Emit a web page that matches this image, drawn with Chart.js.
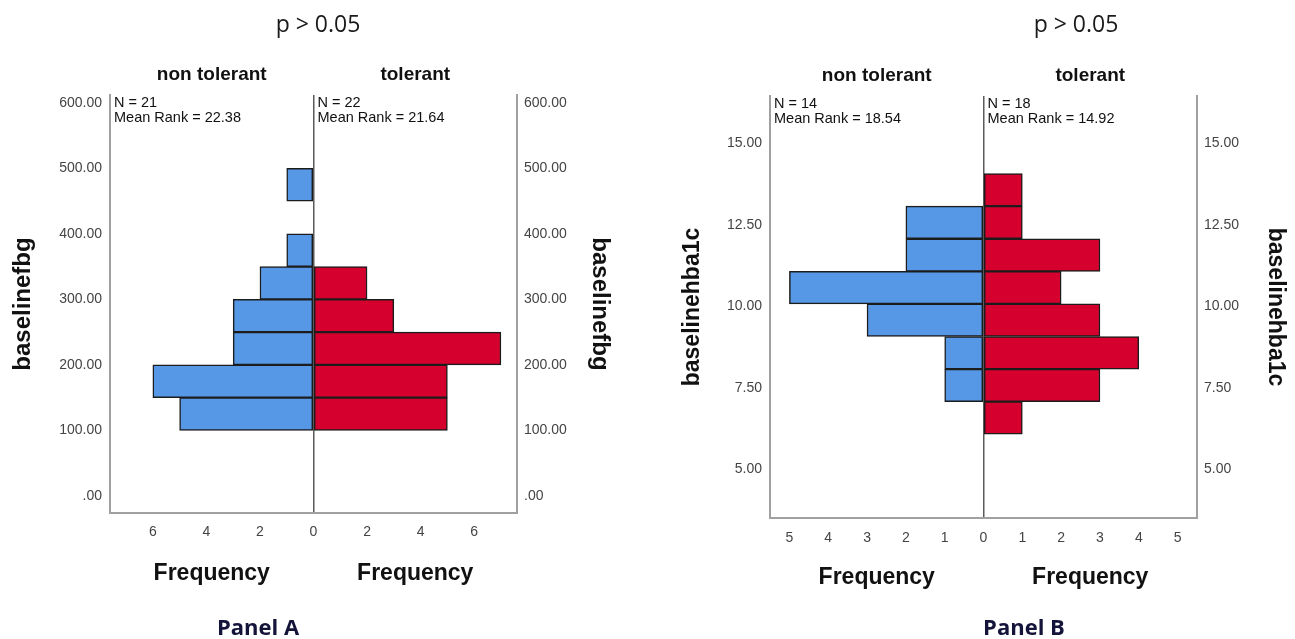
<!DOCTYPE html>
<html>
<head>
<meta charset="utf-8">
<script src="https://cdn.jsdelivr.net/npm/chart.js@4.4.1/dist/chart.umd.min.js"></script>
<style>
  html, body { margin: 0; padding: 0; background: #fff; }
  body { width: 1295px; height: 639px; position: relative; overflow: hidden; }
  .panel { position: absolute; top: 0; height: 639px; }
  #wrapA { left: 0; width: 650px; }
  #wrapB { left: 650px; width: 645px; }
</style>
</head>
<body>
<div class="panel" id="wrapA"><canvas id="chartA"></canvas></div>
<div class="panel" id="wrapB"><canvas id="chartB"></canvas></div>
<script>
// Panel A - baselinefbg, bins of 50 (lower edges)
const binStartsA = [100, 150, 200, 250, 300, 350, 400, 450];
const binWidthA = 50;
const nonTolerantA = [5, 6, 3, 3, 2, 1, 0, 1];
const tolerantA = [5, 5, 7, 3, 2, 0, 0, 0];
const yTicksA = [0, 100, 200, 300, 400, 500, 600];
const xTicksA = [-6, -4, -2, 0, 2, 4, 6];
const statsA = { left: ['N = 21', 'Mean Rank = 22.38'], right: ['N = 22', 'Mean Rank = 21.64'] };

// Panel B - baselinehba1c, bins of 1 (lower edges)
const binStartsB = [6.07, 7.07, 8.07, 9.07, 10.07, 11.07, 12.07, 13.07];
const binWidthB = 1;
const nonTolerantB = [0, 1, 1, 3, 5, 2, 2, 0];
const tolerantB = [1, 3, 4, 3, 2, 3, 1, 1];
const yTicksB = [5, 7.5, 10, 12.5, 15];
const xTicksB = [-5, -4, -3, -2, -1, 0, 1, 2, 3, 4, 5];
const statsB = { left: ['N = 14', 'Mean Rank = 18.54'], right: ['N = 18', 'Mean Rank = 14.92'] };

const BLUE = '#5698e6';
const RED = '#d6002f';
const EDGE = '#1c1c1c';

const toBars = (starts, width, counts, sign) =>
  starts.map((s, i) => ({ y: s + width / 2, x: sign * counts[i] }))
        .filter(p => p.x !== 0);

const fmtY = v => v === 0 ? '.00' : v.toFixed(2);

// draws the extra texts (p value, group names, N / mean rank, Frequency, panel name)
const panelText = {
  id: 'panelText',
  afterDraw(chart, args, o) {
    const { ctx, chartArea: a, scales: { x } } = chart;
    const zero = x.getPixelForValue(0);
    const lMid = (a.left + zero) / 2;
    const rMid = (zero + a.right) / 2;
    ctx.save();
    ctx.textAlign = 'center';
    ctx.textBaseline = 'middle';

    ctx.fillStyle = '#1a1a1a';
    ctx.font = '23px "Open Sans", "Liberation Sans", sans-serif';
    ctx.fillText('p > 0.05', o.pX, 25);

    ctx.fillStyle = '#111';
    ctx.font = 'bold 19px "Liberation Sans Narrow", "Liberation Sans", Arial, sans-serif';
    ctx.fillText('non tolerant', lMid, a.top - 20);
    ctx.fillText('tolerant', rMid, a.top - 20);

    ctx.textAlign = 'left';
    ctx.font = '14.5px "Liberation Sans Narrow", "Liberation Sans", Arial, sans-serif';
    o.stats.left.forEach((t, i) => ctx.fillText(t, a.left + 4, a.top + o.statsTop + i * 15));
    o.stats.right.forEach((t, i) => ctx.fillText(t, zero + 4, a.top + o.statsTop + i * 15));

    ctx.textAlign = 'center';
    ctx.font = 'bold 23px "Liberation Sans", Arial, sans-serif';
    ctx.fillText('Frequency', lMid, o.freqY);
    ctx.fillText('Frequency', rMid, o.freqY);

    ctx.fillStyle = '#14143a';
    ctx.font = 'bold 22px "Open Sans", "Noto Sans", sans-serif';
    ctx.fillText(o.panelName, o.panelX, 629);
    ctx.restore();
  }
};

function makePanel(id, cfg) {
  const tickFont = { family: '"Liberation Sans", Arial, sans-serif', size: 14 };
  const titleFont = { family: '"Liberation Sans", Arial, sans-serif', size: cfg.titleSize, weight: 'bold' };
  return new Chart(document.getElementById(id), {
    type: 'bar',
    data: {
      datasets: [
        {
          label: 'non tolerant',
          data: toBars(cfg.bins, cfg.binWidth, cfg.left, -1),
          backgroundColor: BLUE, borderColor: EDGE, borderWidth: 1.5, borderSkipped: false,
          barPercentage: 1, categoryPercentage: 1, grouped: false, yAxisID: 'y'
        },
        {
          label: 'tolerant',
          data: toBars(cfg.bins, cfg.binWidth, cfg.right, 1),
          backgroundColor: RED, borderColor: EDGE, borderWidth: 1.5, borderSkipped: false,
          barPercentage: 1, categoryPercentage: 1, grouped: false, yAxisID: 'y'
        }
      ]
    },
    options: {
      indexAxis: 'y',
      responsive: true,
      maintainAspectRatio: false,
      animation: false,
      layout: { padding: cfg.padding },
      plugins: {
        legend: { display: false },
        tooltip: { enabled: false },
        panelText: cfg.text
      },
      scales: {
        x: {
          type: 'linear',
          min: -cfg.xMax, max: cfg.xMax,
          afterBuildTicks: s => { s.ticks = cfg.xTicks.map(v => ({ value: v })); },
          afterFit: s => { s.height = cfg.xHeight; },
          ticks: {
            autoSkip: false, maxRotation: 0, padding: cfg.xTickPad, color: '#444', font: tickFont,
            callback: v => String(Math.abs(v))
          },
          grid: {
            drawTicks: false,
            lineWidth: 1.5,
            color: c => (c.tick && c.tick.value === 0) ? '#5a5a5a' : 'rgba(0,0,0,0)'
          },
          border: { display: true, color: '#a0a0a0', width: 2 }
        },
        y: {
          type: 'linear',
          position: 'left',
          offset: false,
          min: cfg.yMin, max: cfg.yMax,
          afterBuildTicks: s => { s.ticks = cfg.yTicks.map(v => ({ value: v })); },
          afterFit: s => { s.width = cfg.yWidth; },
          ticks: { padding: 8, color: '#444', font: tickFont, callback: fmtY },
          grid: { display: false, drawTicks: false },
          border: { display: true, color: '#a0a0a0', width: 2 },
          title: { display: true, text: cfg.yTitle, color: '#111', font: titleFont, padding: { top: 6, bottom: 0 } }
        },
        y2: {
          type: 'linear',
          position: 'right',
          offset: false,
          min: cfg.yMin, max: cfg.yMax,
          afterBuildTicks: s => { s.ticks = cfg.yTicks.map(v => ({ value: v })); },
          afterFit: s => { s.width = cfg.y2Width; },
          ticks: { padding: 7, color: '#444', font: tickFont, callback: fmtY },
          grid: { display: false, drawTicks: false },
          border: { display: true, color: '#a0a0a0', width: 2 },
          title: { display: true, text: cfg.yTitle, color: '#111', font: titleFont, padding: { top: 6, bottom: 0 } }
        }
      }
    },
    plugins: [panelText]
  });
}

makePanel('chartA', {
  bins: binStartsA, binWidth: binWidthA, left: nonTolerantA, right: tolerantA,
  xTicks: xTicksA, xMax: 7.6, yTicks: yTicksA, yMin: -26, yMax: 612,
  yTitle: 'baselinefbg', titleSize: 24,
  padding: { left: 3, right: 30, top: 95, bottom: 0 },
  yWidth: 107, y2Width: 103, xHeight: 126, xTickPad: 11,
  text: { pX: 318, panelName: 'Panel A', panelX: 258, freqY: 574, statsTop: 8, stats: statsA }
});

makePanel('chartB', {
  bins: binStartsB, binWidth: binWidthB, left: nonTolerantB, right: tolerantB,
  xTicks: xTicksB, xMax: 5.5, yTicks: yTicksB, yMin: 3.5, yMax: 16.45,
  yTitle: 'baselinehba1c', titleSize: 23,
  padding: { left: 23, right: 0, top: 96, bottom: 0 },
  yWidth: 97, y2Width: 98, xHeight: 121, xTickPad: 12,
  text: { pX: 426, panelName: 'Panel B', panelX: 374, freqY: 578, statsTop: 8, stats: statsB }
});
</script>
</body>
</html>
